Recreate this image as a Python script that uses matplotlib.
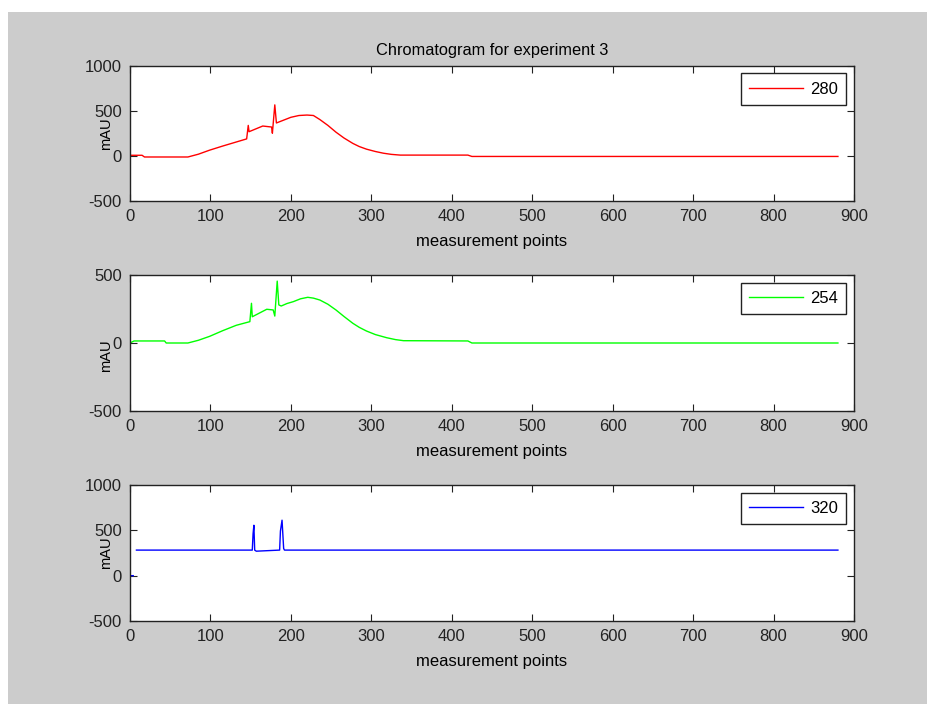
import matplotlib
matplotlib.use("Agg")

import matplotlib.pyplot as plt
import numpy as np
from matplotlib.patches import Rectangle

x280 = [0, 15, 18, 72, 85, 99, 115, 130, 145, 147, 148, 165, 176, 177, 180, 182, 190, 200, 210, 220, 228,
        236, 246, 256, 266, 277, 285, 294, 305, 315, 325, 336, 420, 425, 880]
y280 = [8, 8, -11, -11, 20, 65, 110, 150, 190, 340, 270, 333, 322, 253, 568, 367, 395, 430, 450, 455, 450,
        405, 340, 265, 200, 140, 105, 76, 50, 31, 18, 10, 10, -5, -5]

x254 = [0, 5, 43, 45, 72, 85, 99, 115, 132, 149, 151, 152, 170, 178, 180, 183, 185, 188, 195, 203, 212, 221,
        228, 236, 246, 256, 266, 277, 285, 294, 305, 319, 330, 340, 420, 425, 880]
y254 = [0, 15, 15, 0, 0, 20, 49, 90, 130, 157, 292, 193, 248, 243, 198, 455, 280, 272, 290, 304, 325, 336,
        330, 316, 285, 243, 195, 145, 115, 88, 62, 39, 25, 17, 15, 0, 0]

x320 = [0, 4, 6, 8, 152, 153, 154, 155, 157, 186, 187, 189, 191, 192, 880]
y320 = [0, 0, np.nan, 282, 282, 462, 556, 282, 270, 282, 492, 612, 300, 282, 282]

series = [
    (x280, y280, "#ff0000", "280", [-500, 0, 500, 1000], (-500, 1000)),
    (x254, y254, "#00ff00", "254", [-500, 0, 500], (-500, 500)),
    (x320, y320, "#0000ff", "320", [-500, 0, 500, 1000], (-500, 1000)),
]
xticks = list(range(0, 1000, 100))

plt.rcParams["font.family"] = ["Liberation Sans", "DejaVu Sans"]
plt.rcParams["font.size"] = 12
plt.rcParams["axes.unicode_minus"] = False

fig = plt.figure(figsize=(9.28, 7.04), dpi=100, facecolor="white")
fig.patches.append(Rectangle((8 / 928, 0), 1, (704 - 12) / 704, transform=fig.transFigure,
                             facecolor="#cccccc", edgecolor="none", zorder=-1))

W, H = 928, 704
boxes = [(66, 201), (275, 411), (485, 621)]
l, r = 130, 854
ylab_y = [0.5, 0.41, 0.5]

for i, (xs, ys, c, lab, yt, yl) in enumerate(series):
    t, b = boxes[i]
    ax = fig.add_axes([l / W, 1 - b / H, (r - l) / W, (b - t) / H])
    ax.plot(xs, ys, color=c, lw=1.0, label=lab)
    ax.set_xlim(0, 900)
    ax.set_ylim(*yl)
    ax.set_xticks(xticks)
    ax.set_yticks(yt)
    ax.tick_params(direction="in", top=True, right=True, length=5, width=0.8, pad=6, colors="#222222")
    for s in ax.spines.values():
        s.set_linewidth(1.0)
        s.set_color("#222222")
    ax.set_xlabel("measurement points", labelpad=7)
    ax.set_ylabel("mAU", fontsize=10.5)
    ax.yaxis.set_label_coords(-0.023, ylab_y[i])
    lg = ax.legend(loc="upper right", fancybox=False, framealpha=1, edgecolor="#222222",
                   handlelength=3.2, handletextpad=0.45, borderpad=0.5, borderaxespad=0.45)
    lg.get_frame().set_linewidth(1.0)
    if i == 0:
        ax.set_title("Chromatogram for experiment 3", fontsize=11.75, pad=8)

fig.savefig("out.png", dpi=100, facecolor=fig.get_facecolor())
